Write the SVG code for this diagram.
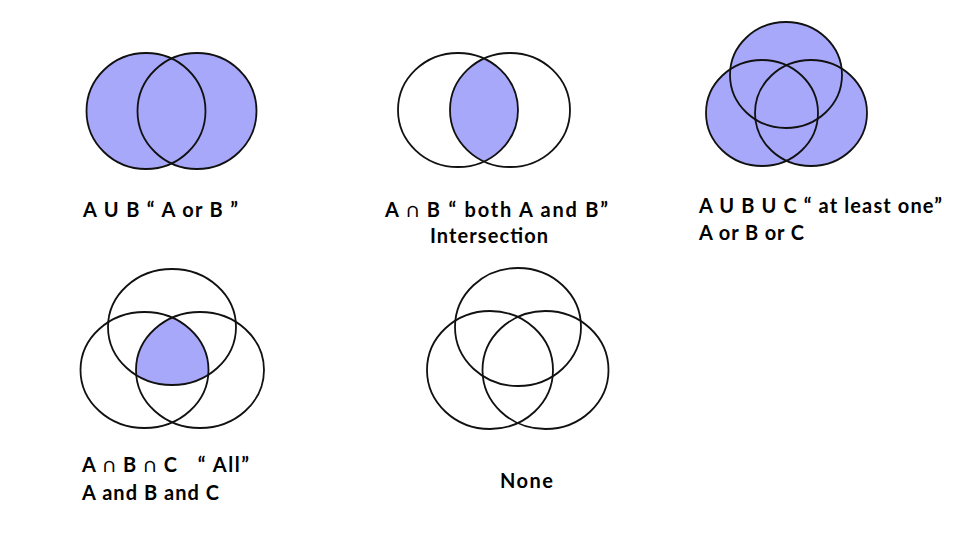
<svg xmlns="http://www.w3.org/2000/svg" width="960" height="540" viewBox="0 0 960 540">
<style>
.c{fill:none;stroke:#111;stroke-width:1.8}
.f{fill:#a8a8fa}
text{font-family:Lato,"Open Sans","Liberation Sans",sans-serif;font-weight:bold;font-size:20px;fill:#000;white-space:pre}
</style>
<defs>
<clipPath id="cA2"><ellipse cx="458" cy="110" rx="60" ry="57"/></clipPath>
<clipPath id="cT4"><ellipse cx="172" cy="327" rx="64" ry="58"/></clipPath>
<clipPath id="cL4"><ellipse cx="144.5" cy="370" rx="64" ry="58"/></clipPath>
</defs>
<rect width="960" height="540" fill="#fff"/>
<g id="union-ab">
<ellipse class="f" cx="146" cy="111" rx="59.5" ry="58"/>
<ellipse class="f" cx="197" cy="111" rx="59.5" ry="58"/>
<ellipse class="c" cx="146" cy="111" rx="59.5" ry="58"/>
<ellipse class="c" cx="197" cy="111" rx="59.5" ry="58"/>
<text x="83" y="217" textLength="155" lengthAdjust="spacing">A U B “ A or B ”</text>
</g>
<g id="intersect-ab">
<ellipse class="f" cx="510" cy="110" rx="60" ry="57" clip-path="url(#cA2)"/>
<ellipse class="c" cx="458" cy="110" rx="60" ry="57"/>
<ellipse class="c" cx="510" cy="110" rx="60" ry="57"/>
<text x="385" y="217" textLength="223" lengthAdjust="spacing">A ∩ B “ both A and B”</text>
<text x="430" y="243" textLength="118" lengthAdjust="spacing">Intersection</text>
</g>
<g id="union-abc">
<ellipse class="f" cx="786" cy="75" rx="56" ry="53"/>
<ellipse class="f" cx="762" cy="113" rx="56" ry="53"/>
<ellipse class="f" cx="811" cy="113" rx="56" ry="53"/>
<ellipse class="c" cx="786" cy="75" rx="56" ry="53"/>
<ellipse class="c" cx="762" cy="113" rx="56" ry="53"/>
<ellipse class="c" cx="811" cy="113" rx="56" ry="53"/>
<text x="699" y="213" textLength="243" lengthAdjust="spacing">A U B U C “ at least one”</text>
<text x="699" y="240" textLength="105" lengthAdjust="spacing">A or B or C</text>
</g>
<g id="intersect-abc">
<g clip-path="url(#cT4)"><ellipse class="f" cx="200" cy="370" rx="64" ry="58" clip-path="url(#cL4)"/></g>
<ellipse class="c" cx="172" cy="327" rx="64" ry="58"/>
<ellipse class="c" cx="144.5" cy="370" rx="64" ry="58"/>
<ellipse class="c" cx="200" cy="370" rx="64" ry="58"/>
<text x="82" y="472" textLength="167" lengthAdjust="spacing" xml:space="preserve">A ∩ B ∩ C   “ All”</text>
<text x="82" y="500" textLength="137" lengthAdjust="spacing">A and B and C</text>
</g>
<g id="none">
<ellipse class="c" cx="518" cy="327" rx="63" ry="59"/>
<ellipse class="c" cx="490" cy="370" rx="63" ry="59"/>
<ellipse class="c" cx="545.5" cy="370" rx="63" ry="59"/>
<text x="500" y="488" textLength="53" lengthAdjust="spacing">None</text>
</g>
<g id="connectors"/>
</svg>
